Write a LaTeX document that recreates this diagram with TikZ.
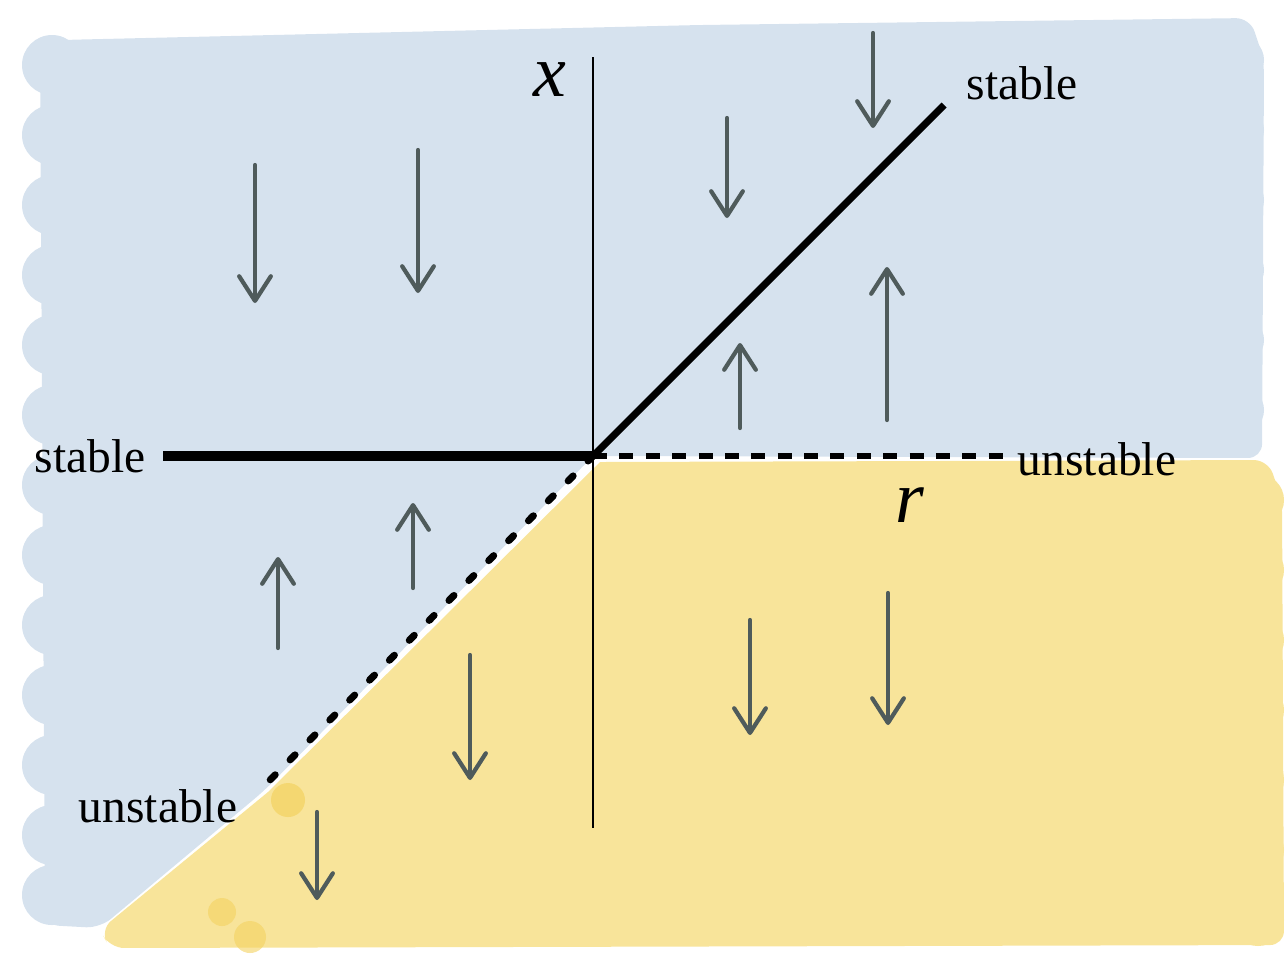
\documentclass[tikz,border=0pt]{standalone}
\usepackage{fontspec}
\setmainfont{Liberation Serif}
\usetikzlibrary{arrows.meta}
\definecolor{skyfill}{HTML}{D6E2EE}
\definecolor{sandfill}{HTML}{F8E49A}
\definecolor{sandblot}{HTML}{F3D260}
\definecolor{penink}{HTML}{4F5B5B}

\begin{document}
\begin{tikzpicture}[x=0.01cm, y=-0.01cm, line width=0.6pt,
  flow/.style={draw=penink, line width=1.2pt, line cap=round,
    -{Straight Barb[length=7pt,width=9pt,round]}},
  branch/.style={line width=2pt},
  lbl/.style={font=\fontsize{13.5}{15}\selectfont, inner sep=1pt},
  var/.style={font=\fontsize{21}{23}\selectfont\itshape, inner sep=1pt}]
\useasboundingbox (0,0) rectangle (1286,978);

\coordinate (O) at (593,456);

% blue region (above the branches)
\fill[skyfill, rounded corners=4pt] (60,40) -- (700,25) -- (1250,18) -- (1264,60)
  -- (1262,458) -- (O) -- (265,790) -- (100,928) -- (45,925) -- (40,45) -- cycle;
\foreach \y in {65,135,205,275,345,415,485,555,625,695,765,835,895}
  \fill[skyfill] (52,\y) circle (30);
\foreach \y in {60,130,200,270,340,410}
  \fill[skyfill] (1240,\y) circle (24);

% yellow region (below the branches)
\fill[sandfill] (600,462) [rounded corners=4pt] -- (1268,460) -- (1282,500)
  -- (1284,945) -- (110,948) -- (100,930) [sharp corners] -- (268,792) -- cycle;
\foreach \y in {500,570,640,710,780,850,920}
  \fill[sandfill] (1258,\y) circle (26);
\fill[sandblot, opacity=0.7] (288,800) circle (17);
\fill[sandblot, opacity=0.6] (222,912) circle (14);
\fill[sandblot, opacity=0.6] (250,937) circle (16);

% axis
\coordinate (xtop) at (593,57);
\coordinate (xbot) at (593,828);
\draw (xtop) -- (xbot);
\node[var] (xlab) at (550,80) {x};
\node[var] (rlab) at (910,505) {r};

% branches
\coordinate (sR) at (944,105);
\coordinate (sL) at (163,456);
\coordinate (uR) at (1012,456);
\coordinate (uL) at (265,785);
\draw[branch] (O) -- (sR);
\draw[line width=2.6pt] (sL) -- (O);
\draw[line width=1.6pt, dash pattern=on 4pt off 3.5pt] (O) -- (uR);
\draw[line width=2pt, line cap=round, dash pattern=on 2pt off 6pt] (O) -- (uL);

\node[lbl] (stR) at (1022,83) {stable};
\node[lbl] (stL) at (90,456) {stable};
\node[lbl] (unR) at (1097,459) {unstable};
\node[lbl] (unL) at (158,806) {unstable};

% flow arrows
\foreach \n/\x/\ya/\yb in {d1/255/165/303, d2/418/150/293, d3/727/118/218,
    d4/873/33/128, d5/470/655/780, d6/750/620/735, d7/888/593/725,
    d8/317/812/900, u1/740/428/343, u2/887/420/267, u3/413/588/503,
    u4/278/648/557} {
  \coordinate (a\n) at (\x,\ya);
  \coordinate (b\n) at (\x,\yb);
  \draw[flow] (a\n) -- (b\n);
}
\end{tikzpicture}
\end{document}
